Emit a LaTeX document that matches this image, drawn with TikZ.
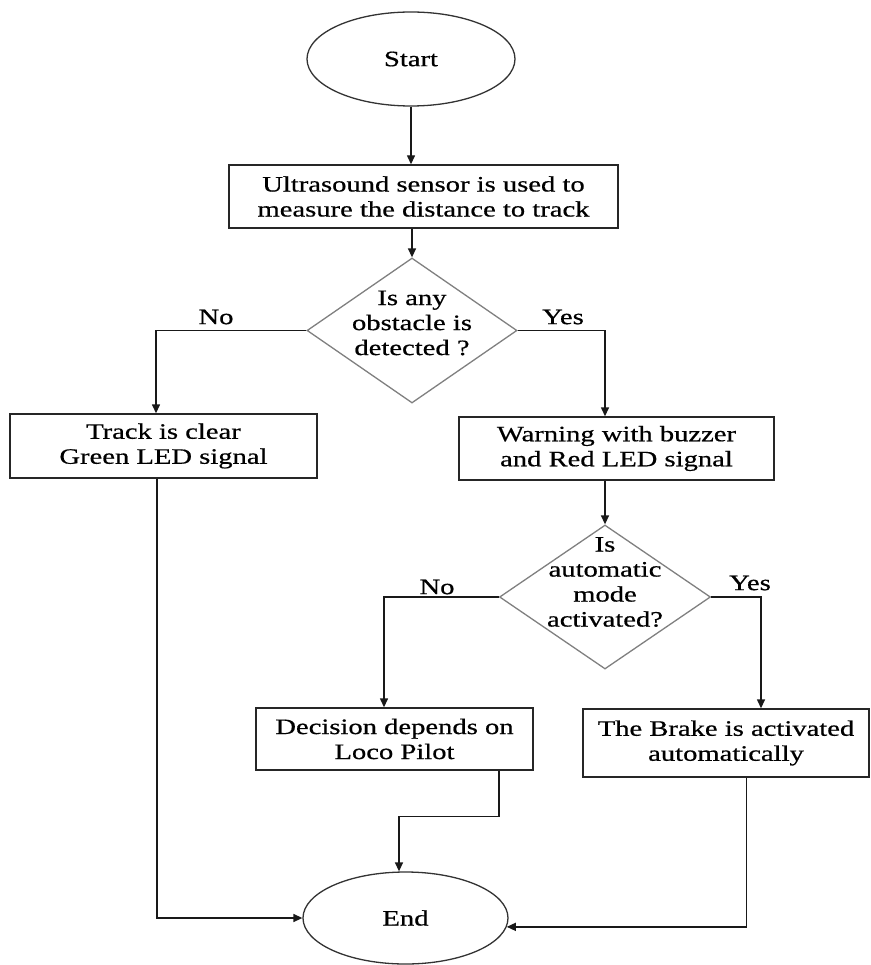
\documentclass[tikz,border=0pt]{standalone}
\usepackage{fontspec}
\setmainfont{Liberation Serif}[FakeStretch=1.3,FakeBold=0.6]
\usetikzlibrary{shapes.geometric,arrows.meta}
\begin{document}
\begin{tikzpicture}[x=1pt,y=-1pt,
  every node/.style={font=\fontsize{22}{25}\selectfont},
  box/.style={draw=black!85, line width=1.4pt, rectangle, inner sep=0pt, align=center},
  term/.style={draw=black!80, line width=1.3pt, ellipse, inner sep=0pt},
  dia/.style={draw=black!50, line width=1.3pt, diamond, inner sep=0pt},
  txt/.style={align=center, inner sep=0pt},
  lbl/.style={inner sep=0pt},
  conn/.style={draw=black!90, line width=1.4pt, -{Triangle[length=9pt,width=8pt]}},
]
\useasboundingbox[fill=white] (0,0) rectangle (870,965);

% terminals
\node[term, minimum width=208pt, minimum height=94pt] (start) at (411,59) {Start};
\node[term, minimum width=205pt, minimum height=92pt] (end) at (405.5,918) {End};

% process boxes
\node[box, minimum width=389pt, minimum height=63pt] (sense) at (423.5,196.5) {Ultrasound sensor is used to\\measure the distance to track};
\node[box, minimum width=307pt, minimum height=64pt] (track) at (163.5,446) {Track is clear\\Green LED signal};
\node[box, minimum width=315pt, minimum height=63pt] (warn) at (616.5,448.5) {Warning with buzzer\\and Red LED signal};
\node[box, minimum width=277pt, minimum height=62pt] (dec) at (394.5,739) {Decision depends on\\Loco Pilot};
\node[box, minimum width=286pt, minimum height=68pt] (brake) at (726,743) {The Brake is activated\\automatically};

% decisions
\node[dia, minimum width=210pt, minimum height=145pt] (d1) at (412,330.5) {};
\node[txt] (d1t) at (412,323) {Is any\\obstacle is\\detected ?};
\node[dia, minimum width=211pt, minimum height=144pt] (d2) at (605,597) {};
\node[txt] (d2t) at (605,582) {Is\\automatic\\mode\\activated?};

% branch labels
\node[lbl] (no1) at (216,317) {No};
\node[lbl] (yes1) at (563,317) {Yes};
\node[lbl] (no2) at (437,587) {No};
\node[lbl] (yes2) at (750,583) {Yes};

% connectors
\draw[conn] (start.south) -- (start.south |- sense.north);
\draw[conn] (d1.north |- sense.south) -- (d1.north);
\draw[conn] (d1.west) -| ([xshift=-7.5pt]track.north);
\draw[conn] (d1.east) -| ([xshift=-11.5pt]warn.north);
\draw[conn] (d2.north |- warn.south) -- (d2.north);
\draw[conn] (d2.west) -| ([xshift=-10.5pt]dec.north);
\draw[conn] (d2.east) -| ([xshift=35pt]brake.north);
\draw[conn] ([xshift=104.5pt]dec.south) -- ++(0,46) -| ([xshift=-6.5pt]end.north);
\draw[conn] ([xshift=-6.5pt]track.south) |- (end.west);
\draw[conn] ([xshift=20.5pt]brake.south) |- (end.-5.5);
\end{tikzpicture}
\end{document}
